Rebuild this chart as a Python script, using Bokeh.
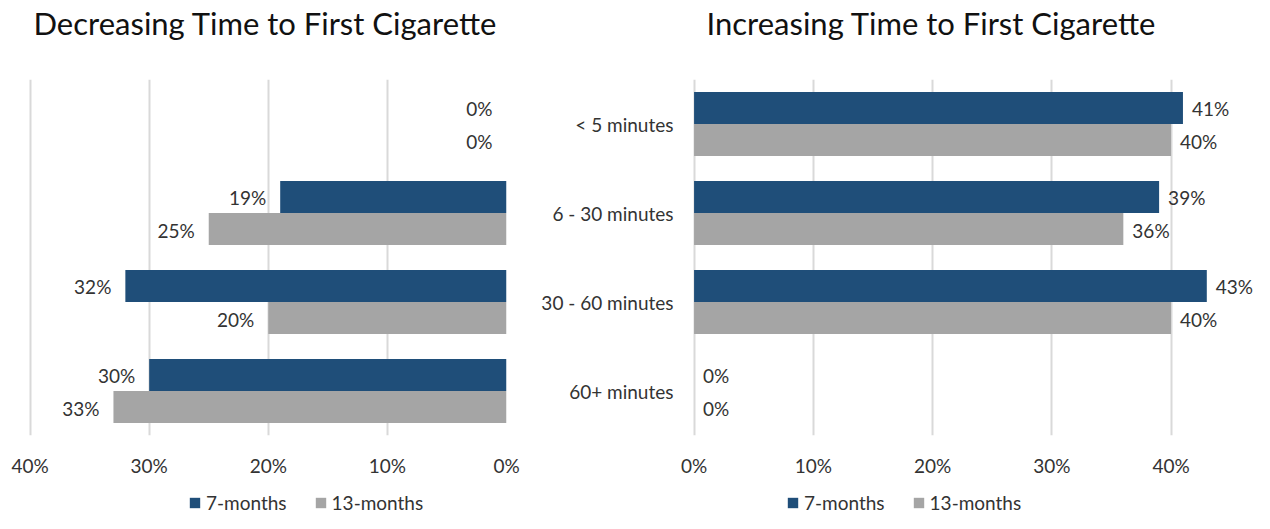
from bokeh.plotting import figure
from bokeh.models import (ColumnDataSource, FactorRange, Range1d, FixedTicker,
                          NumeralTickFormatter, Legend, LegendItem, Title)
from bokeh.transform import dodge
from bokeh.layouts import row, column
from bokeh.embed import file_html
from bokeh.resources import INLINE
from bokeh.core.properties import value

# ---------------- data ----------------
categories = ["< 5 minutes", "6 - 30 minutes", "30 - 60 minutes", "60+ minutes"]
series = ["7-months", "13-months"]
dec_7 = [0.00, 0.19, 0.32, 0.30]
dec_13 = [0.00, 0.25, 0.20, 0.33]
inc_7 = [0.41, 0.39, 0.43, 0.00]
inc_13 = [0.40, 0.36, 0.40, 0.00]
tick_values = [0.0, 0.1, 0.2, 0.3, 0.4]
title_left = "Decreasing Time to First Cigarette"
title_right = "Increasing Time to First Cigarette"

# ---------------- style ----------------
BLUE = "#1F4E79"
GRAY = "#A5A5A5"
GRID = "#D9D9D9"
TXT = "#333333"
FONT = value("Lato")
FS = "19px"
BAR_H = 0.36
TOP = 78
FRAME_H = 356
BOTTOM = 56
LEG_H = 23
LEFT_W = 522
RIGHT_W = 732


def pct(vals):
    return [f"{round(v * 100)}%" for v in vals]


def style_common(p, title, title_offset):
    # spacer between the frame and the title (title is drawn outermost)
    p.add_layout(Title(text=" ", text_font_size="2px", standoff=33,
                       text_color="#FFFFFF"), "above")
    p.title.text = title
    p.title.align = "left"
    p.title.vertical_align = "bottom"
    p.title.offset = title_offset
    p.title.standoff = 2
    p.title.text_font = "Lato"
    p.title.text_font_size = "31px"
    p.title.text_font_style = "normal"
    p.title.text_color = "#111111"
    p.outline_line_color = None
    p.xaxis.ticker = FixedTicker(ticks=tick_values)
    p.xaxis.formatter = NumeralTickFormatter(format="0%")
    p.xaxis.major_tick_line_color = None
    p.xaxis.minor_tick_line_color = None
    p.xaxis.major_tick_out = 0
    p.xaxis.axis_line_color = None
    p.xaxis.major_label_standoff = 18
    p.xaxis.major_label_text_font = "Lato"
    p.xaxis.major_label_text_font_size = FS
    p.xaxis.major_label_text_color = TXT
    p.xgrid.ticker = FixedTicker(ticks=tick_values)
    p.xgrid.grid_line_color = GRID
    p.xgrid.grid_line_width = 2
    p.ygrid.grid_line_color = None


def add_bars(p, src, label_align, label_offset):
    r7 = p.hbar(y=dodge("cat", BAR_H / 2, range=p.y_range), left=0, right="v7",
                height=BAR_H, fill_color=BLUE, line_color=None, source=src)
    r13 = p.hbar(y=dodge("cat", -BAR_H / 2, range=p.y_range), left=0, right="v13",
                 height=BAR_H, fill_color=GRAY, line_color=None, source=src)
    for col, lab, off in (("v7", "l7", BAR_H / 2), ("v13", "l13", -BAR_H / 2)):
        p.text(x=col, y=dodge("cat", off, range=p.y_range), text=lab,
               text_align=label_align, text_baseline="middle",
               x_offset=label_offset, y_offset=1,
               text_font=FONT, text_font_size=FS, text_color=TXT, source=src)
    return r7, r13


def legend_figure(width, x_loc, src):
    # a strip that only shows the legend; the mirrored bars have zero height
    # and lie outside its x range, so only the legend keys are drawn
    lf = figure(width=width, height=LEG_H, x_range=Range1d(2, 3),
                y_range=FactorRange(*categories),
                x_axis_type=None, y_axis_type=None,
                min_border_left=0, min_border_right=0,
                min_border_top=0, min_border_bottom=0,
                output_backend="svg", toolbar_location=None)
    lf.outline_line_color = None
    lf.grid.visible = False
    k7 = lf.hbar(y="cat", right="v7", left=0, height=0, fill_color=BLUE,
                 line_color=None, source=src)
    k13 = lf.hbar(y="cat", right="v13", left=0, height=0, fill_color=GRAY,
                  line_color=None, source=src)
    leg = Legend(items=[LegendItem(label=series[0], renderers=[k7]),
                        LegendItem(label=series[1], renderers=[k13])],
                 orientation="horizontal", location=(x_loc, 0),
                 label_text_font="Lato", label_text_font_size=FS,
                 label_text_color=TXT, glyph_width=13, glyph_height=13,
                 label_standoff=5, spacing=27, padding=0, margin=0,
                 border_line_color=None, background_fill_alpha=0)
    lf.add_layout(leg)
    return lf


# ---------------- left chart ----------------
srcL = ColumnDataSource(dict(cat=categories, v7=dec_7, v13=dec_13,
                             l7=pct(dec_7), l13=pct(dec_13)))
pL = figure(y_range=FactorRange(*categories[::-1]), x_range=Range1d(0.403, 0.0),
            frame_width=480, frame_height=FRAME_H,
            min_border_left=26, min_border_right=LEFT_W - 26 - 480,
            min_border_top=TOP, min_border_bottom=BOTTOM,
            output_backend="svg", toolbar_location=None)
style_common(pL, title_left, 7)
pL.yaxis.visible = False
add_bars(pL, srcL, "right", -14)

# ---------------- right chart ----------------
srcR = ColumnDataSource(dict(cat=categories, v7=inc_7, v13=inc_13,
                             l7=pct(inc_7), l13=pct(inc_13)))
pR = figure(y_range=FactorRange(*categories[::-1]), x_range=Range1d(-0.003, 0.47),
            frame_width=564, frame_height=FRAME_H,
            min_border_left=RIGHT_W - 564, min_border_right=0,
            min_border_top=TOP, min_border_bottom=BOTTOM,
            output_backend="svg", toolbar_location=None)
style_common(pR, title_right, 16)
pR.yaxis.major_tick_line_color = None
pR.yaxis.minor_tick_line_color = None
pR.yaxis.major_tick_out = 0
pR.yaxis.axis_line_color = None
pR.yaxis.major_label_standoff = 17
pR.yaxis.major_label_text_font = "Lato"
pR.yaxis.major_label_text_font_size = FS
pR.yaxis.major_label_text_color = TXT
add_bars(pR, srcR, "left", 9)

# ---------------- legends ----------------
legL = legend_figure(LEFT_W, 188, srcL)
legR = legend_figure(RIGHT_W, 786 - LEFT_W, srcR)

layout = column(row(pL, pR, spacing=0), row(legL, legR, spacing=0), spacing=0)
open("out.html", "w").write(file_html(layout, INLINE))
